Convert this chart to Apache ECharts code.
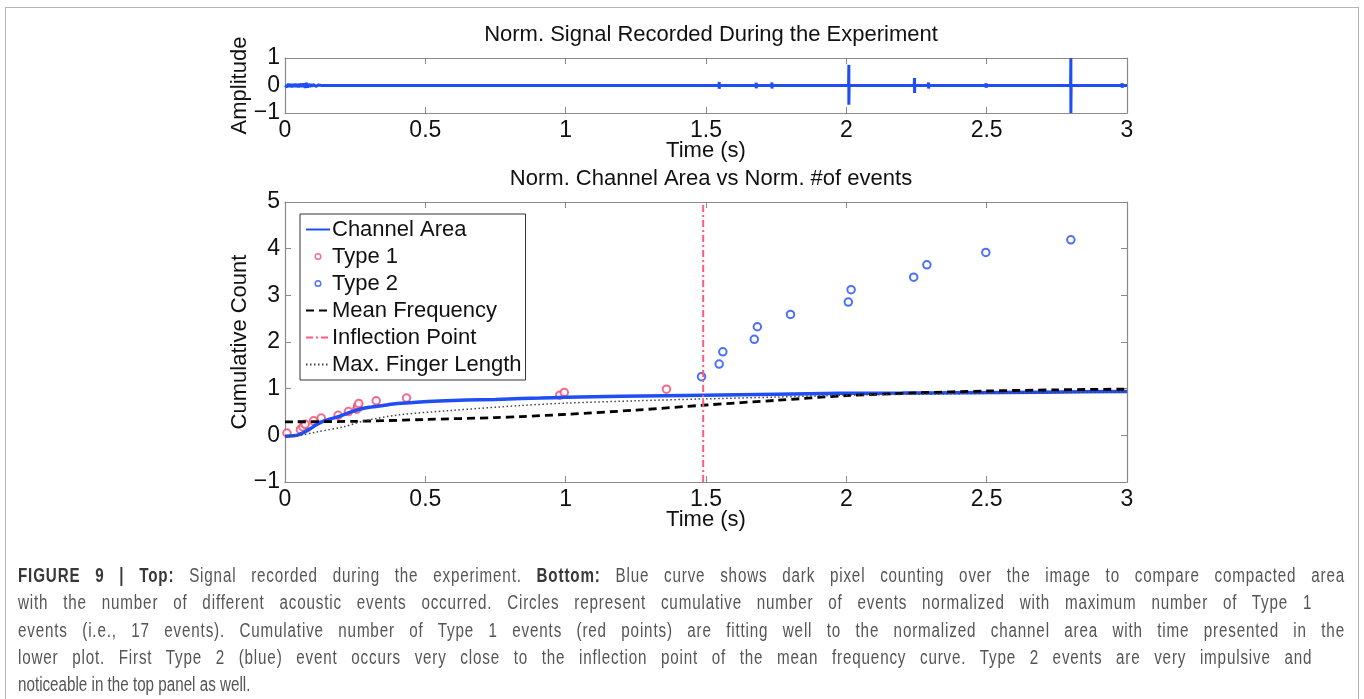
<!DOCTYPE html>
<html><head><meta charset="utf-8">
<script src="https://cdn.jsdelivr.net/npm/echarts@6/dist/echarts.min.js"></script>
<style>
html,body{margin:0;padding:0;background:#fff;}
#wrap{position:relative;width:1364px;height:699px;overflow:hidden;}
#chart{position:absolute;left:0;top:0;width:1364px;height:699px;}
#frame{position:absolute;left:5px;top:7px;width:1354px;height:720px;border:1px solid #b4b4b4;box-sizing:border-box;pointer-events:none;}
#caption{position:absolute;left:18px;top:562px;font-family:"Liberation Sans",Arial,sans-serif;font-size:20px;line-height:27.3px;color:#555;transform:scaleX(0.76);transform-origin:0 0;}
#caption .l{text-align:justify;text-align-last:justify;white-space:nowrap;letter-spacing:1.1px;}
#caption .last{text-align:left;white-space:nowrap;}
#caption b{color:#383838;}
</style></head>
<body>
<div id="wrap">
<div id="chart"></div>
<div id="frame"></div>
<div id="caption">
<div class="l" style="width:1746px"><b>FIGURE 9 | Top:</b> Signal recorded during the experiment. <b>Bottom:</b> Blue curve shows dark pixel counting over the image to compare compacted area</div>
<div class="l" style="width:1703px">with the number of different acoustic events occurred. Circles represent cumulative number of events normalized with maximum number of Type 1</div>
<div class="l" style="width:1746px">events (i.e., 17 events). Cumulative number of Type 1 events (red points) are fitting well to the normalized channel area with time presented in the</div>
<div class="l" style="width:1703px">lower plot. First Type 2 (blue) event occurs very close to the inflection point of the mean frequency curve. Type 2 events are very impulsive and</div>
<div class="last">noticeable in the top panel as well.</div>
</div>
</div>
<script>
// ---- tick values ----
const xTicks = [0, 0.5, 1, 1.5, 2, 2.5, 3];
const topYTicks = [-1, 0, 1];
const botYTicks = [-1, 0, 1, 2, 3, 4, 5];

// ---- top panel: recorded signal ----
const noiseT = [0,0.004,0.008,0.012,0.016,0.02,0.024,0.028,0.032,0.036,0.04,0.044,0.048,0.052,0.056,0.06,0.064,0.068,0.072,0.076,0.08,0.084,0.088,0.092,0.096,0.1,0.11,0.12,0.13];
const noiseA = [0,0.05,-0.05,0.06,-0.05,0.05,-0.06,0.05,-0.05,0.06,-0.05,0.05,-0.06,0.06,-0.05,0.07,-0.06,0.08,-0.09,0.1,-0.08,0.06,-0.05,0.05,-0.04,0.04,-0.03,0.02,0];
const spikeT    = [1.40, 1.48, 1.547, 1.679, 1.735, 2.009, 2.243, 2.293, 2.498, 2.80, 2.983];
const spikeUp   = [0.06, 0.05, 0.13, 0.10, 0.11, 0.75, 0.27, 0.11, 0.08, 1.0, 0.08];
const spikeDown = [-0.06, -0.05, -0.12, -0.10, -0.11, -0.70, -0.27, -0.11, -0.08, -1.0, -0.08];
const signalEnd = [3.0, 0];

// ---- bottom panel ----
const channelT = [0, 0.03, 0.05, 0.07, 0.09, 0.11, 0.135, 0.16, 0.195, 0.23, 0.266, 0.3, 0.349, 0.4, 0.468, 0.55, 0.646, 0.75, 0.842, 0.91, 1.0, 1.2, 1.49, 1.75, 1.98, 2.2, 2.4, 2.7, 3.0];
const channelV = [-0.02, -0.01, 0.015, 0.07, 0.14, 0.22, 0.30, 0.35, 0.41, 0.49, 0.56, 0.60, 0.64, 0.68, 0.71, 0.735, 0.755, 0.77, 0.79, 0.80, 0.815, 0.835, 0.857, 0.88, 0.90, 0.905, 0.913, 0.925, 0.94];

const type1T = [0.007, 0.055, 0.064, 0.072, 0.102, 0.129, 0.189, 0.226, 0.256, 0.259, 0.263, 0.325, 0.433, 0.979, 0.995, 1.359];
const type1V = [0.05, 0.12, 0.18, 0.235, 0.31, 0.37, 0.43, 0.51, 0.56, 0.63, 0.68, 0.74, 0.80, 0.86, 0.92, 0.99];

const type2T = [1.484, 1.547, 1.560, 1.672, 1.683, 1.801, 2.007, 2.017, 2.240, 2.287, 2.497, 2.800];
const type2V = [1.256, 1.528, 1.79, 2.057, 2.327, 2.59, 2.856, 3.12, 3.39, 3.655, 3.92, 4.19];

const meanT = [0, 0.25, 0.5, 0.75, 0.84, 1.0, 1.25, 1.5, 1.75, 2.0, 2.25, 2.5, 2.75, 3.0];
const meanV = [0.29, 0.30, 0.34, 0.38, 0.40, 0.45, 0.54, 0.65, 0.75, 0.85, 0.91, 0.95, 0.975, 0.99];

const fingerT = [0, 0.052, 0.112, 0.207, 0.29, 0.408, 0.586, 0.842, 1.0, 1.25, 1.49, 1.75, 2.0, 2.5, 3.0];
const fingerV = [-0.02, 0.0, 0.07, 0.18, 0.32, 0.44, 0.53, 0.64, 0.69, 0.74, 0.78, 0.82, 0.86, 0.90, 0.93];

const inflectionT = 1.49;

// ---- build ----
const zip = (a, b) => a.map((v, i) => [v, b[i]]);
const signalData = zip(noiseT, noiseA);
spikeT.forEach((t, i) => {
  signalData.push([t - 0.001, 0], [t, spikeUp[i]], [t, spikeDown[i]], [t + 0.001, 0]);
});
signalData.push(signalEnd);

const BLUE = '#1f4ef5', RED = '#f0476b', PINK = '#ff5a7e';
const FONT = '"Liberation Sans", Arial, sans-serif';
const AX = '#8a8a8a';
const fmt = v => (v < 0 ? '\u2212' + (-v) : String(v));

function xAx(grid, show) {
  return {
    type: 'value', gridIndex: grid, position: show ? 'bottom' : 'top',
    min: xTicks[0], max: xTicks[xTicks.length - 1], interval: xTicks[1] - xTicks[0],
    axisLine: { show: true, onZero: false, lineStyle: { color: AX, width: 1.2 } },
    axisTick: { show: true, inside: true, length: 6, lineStyle: { color: AX } },
    splitLine: { show: false },
    axisLabel: { show: show, formatter: fmt, color: '#111', fontFamily: FONT, fontSize: 23, margin: 6 },
    name: show ? 'Time (s)' : '', nameLocation: 'middle', nameGap: 27, nameMoveOverlap: false,
    nameTextStyle: { color: '#111', fontFamily: FONT, fontSize: 22, verticalAlign: 'top' }
  };
}
function yAx(grid, ticks, show, name) {
  return {
    type: 'value', gridIndex: grid, position: show ? 'left' : 'right',
    min: ticks[0], max: ticks[ticks.length - 1], interval: ticks[1] - ticks[0],
    axisLine: { show: true, onZero: false, lineStyle: { color: AX, width: 1.2 } },
    axisTick: { show: true, inside: true, length: 6, lineStyle: { color: AX } },
    splitLine: { show: false },
    axisLabel: { show: show, formatter: fmt, color: '#111', fontFamily: FONT, fontSize: 23, margin: 5 },
    name: show ? name : '', nameLocation: 'middle', nameGap: 34, nameRotate: 90, nameMoveOverlap: false,
    nameTextStyle: { color: '#111', fontFamily: FONT, fontSize: 22 }
  };
}

const ringIcon = 'path://M0,0M22,12M7.5,6A3.5,3.5,0,1,1,14.5,6A3.5,3.5,0,1,1,7.5,6ZM8.9,6A2.1,2.1,0,1,0,13.1,6A2.1,2.1,0,1,0,8.9,6Z';
const noSym = { opacity: 0 };

const chart = echarts.init(document.getElementById('chart'), null, { renderer: 'canvas' });
chart.setOption({
  animation: false,
  backgroundColor: '#fff',
  title: [
    { text: 'Norm. Signal Recorded During the Experiment', left: 706, top: 19, textAlign: 'center',
      textStyle: { fontFamily: FONT, fontSize: 22, fontWeight: 'normal', color: '#111' } },
    { text: 'Norm. Channel Area vs Norm. #of events', left: 706, top: 163, textAlign: 'center',
      textStyle: { fontFamily: FONT, fontSize: 22, fontWeight: 'normal', color: '#111' } }
  ],
  grid: [
    { left: 285, top: 58, width: 842, height: 55, containLabel: false },
    { left: 285, top: 202, width: 842, height: 280, containLabel: false }
  ],
  xAxis: [xAx(0, true), xAx(0, false), xAx(1, true), xAx(1, false)],
  yAxis: [yAx(0, topYTicks, true, 'Amplitude'), yAx(0, topYTicks, false, ''),
          yAx(1, botYTicks, true, 'Cumulative Count'), yAx(1, botYTicks, false, '')],
  legend: {
    left: 300, top: 214, orient: 'vertical',
    padding: [2, 4, 2, 5], itemWidth: 24, itemHeight: 12, itemGap: 0,
    backgroundColor: '#fff', borderColor: '#333', borderWidth: 1,
    textStyle: { fontFamily: FONT, fontSize: 22, lineHeight: 27, color: '#111', padding: [0, 0, 0, -3] },
    data: [
      { name: 'Channel Area', itemStyle: noSym },
      { name: 'Type 1', icon: ringIcon, itemStyle: { color: RED, borderWidth: 0 } },
      { name: 'Type 2', icon: ringIcon, itemStyle: { color: BLUE, borderWidth: 0 } },
      { name: 'Mean Frequency', itemStyle: noSym },
      { name: 'Inflection Point', itemStyle: noSym },
      { name: 'Max. Finger Length', itemStyle: noSym }
    ]
  },
  series: [
    { name: 'Signal', type: 'line', xAxisIndex: 0, yAxisIndex: 0, data: signalData,
      symbol: 'none', lineStyle: { color: BLUE, width: 3 }, itemStyle: { color: BLUE } },
    { name: 'Channel Area', type: 'line', xAxisIndex: 2, yAxisIndex: 2, data: zip(channelT, channelV),
      symbol: 'none', smooth: 0.3, lineStyle: { color: BLUE, width: 3.5 }, itemStyle: { color: BLUE } },
    { name: 'Type 1', type: 'scatter', xAxisIndex: 2, yAxisIndex: 2, data: zip(type1T, type1V),
      symbol: 'emptyCircle', symbolSize: 7.5, itemStyle: { color: RED, borderWidth: 2 } },
    { name: 'Type 2', type: 'scatter', xAxisIndex: 2, yAxisIndex: 2, data: zip(type2T, type2V),
      symbol: 'emptyCircle', symbolSize: 7.5, itemStyle: { color: BLUE, borderWidth: 2 } },
    { name: 'Mean Frequency', type: 'line', xAxisIndex: 2, yAxisIndex: 2, data: zip(meanT, meanV),
      symbol: 'none', smooth: 0.3, lineStyle: { color: '#000', width: 2.8, type: [8, 5] }, itemStyle: { color: '#000' } },
    { name: 'Inflection Point', type: 'line', xAxisIndex: 2, yAxisIndex: 2,
      data: [[inflectionT, botYTicks[0]], [inflectionT, botYTicks[botYTicks.length - 1]]],
      symbol: 'none', lineStyle: { color: PINK, width: 2, type: [7, 3, 2, 3] }, itemStyle: { color: PINK } },
    { name: 'Max. Finger Length', type: 'line', xAxisIndex: 2, yAxisIndex: 2, data: zip(fingerT, fingerV),
      symbol: 'none', smooth: 0.3, lineStyle: { color: '#444', width: 1.5, type: [1.5, 2.5] }, itemStyle: { color: '#444' } }
  ]
});
</script>
</body></html>
